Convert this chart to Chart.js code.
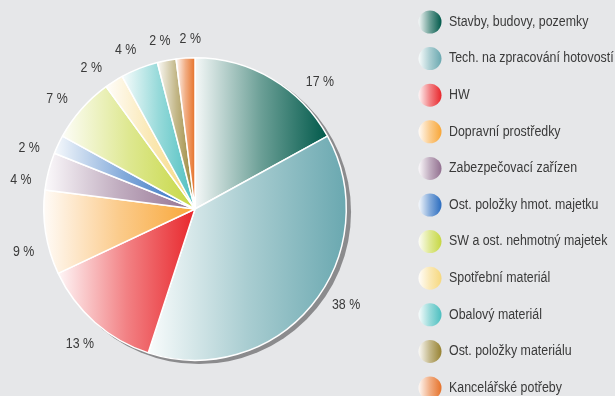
<!DOCTYPE html>
<html lang="cs">
<head>
<meta charset="utf-8">
<script src="https://cdn.jsdelivr.net/npm/chart.js@4"></script>
<style>
  html, body { margin: 0; padding: 0; background: #e6e7e9; overflow: hidden; }
  #wrap { width: 615px; height: 396px; position: relative; }
</style>
</head>
<body>
<div id="wrap"><canvas id="c" width="615" height="396"></canvas></div>
<script>
// Struktura investic (podíly v %)
const categories = [
  'Stavby, budovy, pozemky',
  'Tech. na zpracování hotovostí',
  'HW',
  'Dopravní prostředky',
  'Zabezpečovací zařízen',
  'Ost. položky hmot. majetku',
  'SW a ost. nehmotný majetek',
  'Spotřební materiál',
  'Obalový materiál',
  'Ost. položky materiálu',
  'Kancelářské potřeby'
];
const shares = [17, 38, 13, 9, 4, 2, 7, 2, 4, 2, 2];
const shareLabels = shares.map(v => v + ' %');

// full-strength colour at the right end of each gradient
const sliceColors = ['#00594a', '#6aa8b0', '#e8262b', '#f8a637', '#927090', '#2a6cbf',
                     '#c6d742', '#f6d87e', '#4cbfc0', '#978232', '#e6722a'];
// small angular nudges (degrees) for the percentage captions
const captionTurn = [14, -7, -1, -5, -5, -5, -3, -4, -2, -1, 2];

const FONT = '14px "Liberation Sans", Arial, sans-serif';
const NARROW = 0.885;          // horizontal squeeze for a condensed look
const TEXT = '#3a3a3a';

function hexRgb(h) {
  const n = parseInt(h.slice(1), 16);
  return [(n >> 16) & 255, (n >> 8) & 255, n & 255];
}
function tint(h, k) { // k = share of colour, rest white
  const [r, g, b] = hexRgb(h);
  const m = c => Math.round(255 + (c - 255) * k);
  return `rgb(${m(r)},${m(g)},${m(b)})`;
}
function shade(ctx, x0, x1, col) {
  const g = ctx.createLinearGradient(x0, 0, x1, 0);
  g.addColorStop(0, tint(col, 0.04));
  g.addColorStop(0.5, tint(col, 0.58));
  g.addColorStop(1, col);
  return g;
}
function angleInside(a, s, e) {
  const TAU = Math.PI * 2;
  const d = ((a - s) % TAU + TAU) % TAU;
  return d <= (e - s);
}
function xRange(p) {
  const xs = [p.x, p.x + p.outerRadius * Math.cos(p.startAngle), p.x + p.outerRadius * Math.cos(p.endAngle)];
  if (angleInside(0, p.startAngle, p.endAngle)) xs.push(p.x + p.outerRadius);
  if (angleInside(Math.PI, p.startAngle, p.endAngle)) xs.push(p.x - p.outerRadius);
  return [Math.min(...xs), Math.max(...xs)];
}
function narrowText(ctx, txt, x, y) {
  ctx.save();
  ctx.translate(x, y);
  ctx.scale(NARROW, 1);
  ctx.fillText(txt, 0, 0);
  ctx.restore();
}

const sliceShading = {
  id: 'sliceShading',
  beforeDatasetsDraw(chart) {
    const ctx = chart.ctx;
    const meta = chart.getDatasetMeta(0);
    const c = meta.data[0].getProps(['x', 'y', 'outerRadius'], true);
    ctx.save();
    ctx.fillStyle = '#8b8b8d';
    ctx.filter = 'blur(0.7px)';
    ctx.beginPath();
    ctx.arc(c.x + 4, c.y + 3, c.outerRadius + 0.8, 0, Math.PI * 2);
    ctx.fill();
    ctx.restore();
    meta.data.forEach((arc, i) => {
      const p = arc.getProps(['x', 'y', 'startAngle', 'endAngle', 'outerRadius'], true);
      const [x0, x1] = xRange(p);
      arc.options = Object.assign({}, arc.options, { backgroundColor: shade(ctx, x0, x1, sliceColors[i]) });
    });
  }
};

const sliceCaptions = {
  id: 'sliceCaptions',
  afterDatasetsDraw(chart) {
    const ctx = chart.ctx;
    const meta = chart.getDatasetMeta(0);
    ctx.save();
    ctx.font = FONT;
    ctx.fillStyle = TEXT;
    ctx.textAlign = 'center';
    ctx.textBaseline = 'middle';
    meta.data.forEach((arc, i) => {
      const p = arc.getProps(['x', 'y', 'startAngle', 'endAngle', 'outerRadius'], true);
      const mid = (p.startAngle + p.endAngle) / 2 + captionTurn[i] * Math.PI / 180;
      const txt = shareLabels[i];
      const w = ctx.measureText(txt).width * NARROW;
      const r = p.outerRadius + 14 + Math.abs(Math.cos(mid)) * w / 2 + Math.abs(Math.sin(mid)) * 4;
      narrowText(ctx, txt, p.x + r * Math.cos(mid), p.y + r * Math.sin(mid));
    });
    ctx.restore();
  }
};

const sideLegend = {
  id: 'sideLegend',
  afterDraw(chart) {
    const ctx = chart.ctx;
    ctx.save();
    ctx.font = FONT;
    ctx.textBaseline = 'middle';
    ctx.textAlign = 'left';
    categories.forEach((name, i) => {
      const y = 22 + i * 36.6;
      const cx = 430, rr = 11.5;
      ctx.fillStyle = shade(ctx, cx - rr, cx + rr, sliceColors[i]);
      ctx.beginPath();
      ctx.arc(cx, y, rr, 0, Math.PI * 2);
      ctx.fill();
      ctx.fillStyle = TEXT;
      narrowText(ctx, name, 449, y);
    });
    ctx.restore();
  }
};

new Chart(document.getElementById('c'), {
  type: 'pie',
  data: {
    labels: categories,
    datasets: [{
      data: shares,
      backgroundColor: sliceColors,
      borderColor: '#ffffff',
      borderWidth: 1.5,
      hoverOffset: 0
    }]
  },
  options: {
    responsive: false,
    animation: false,
    events: [],
    layout: { padding: { left: 43, top: 57, right: 268, bottom: 35 } },
    plugins: { legend: { display: false }, tooltip: { enabled: false } }
  },
  plugins: [sliceShading, sliceCaptions, sideLegend]
});
</script>
</body>
</html>
